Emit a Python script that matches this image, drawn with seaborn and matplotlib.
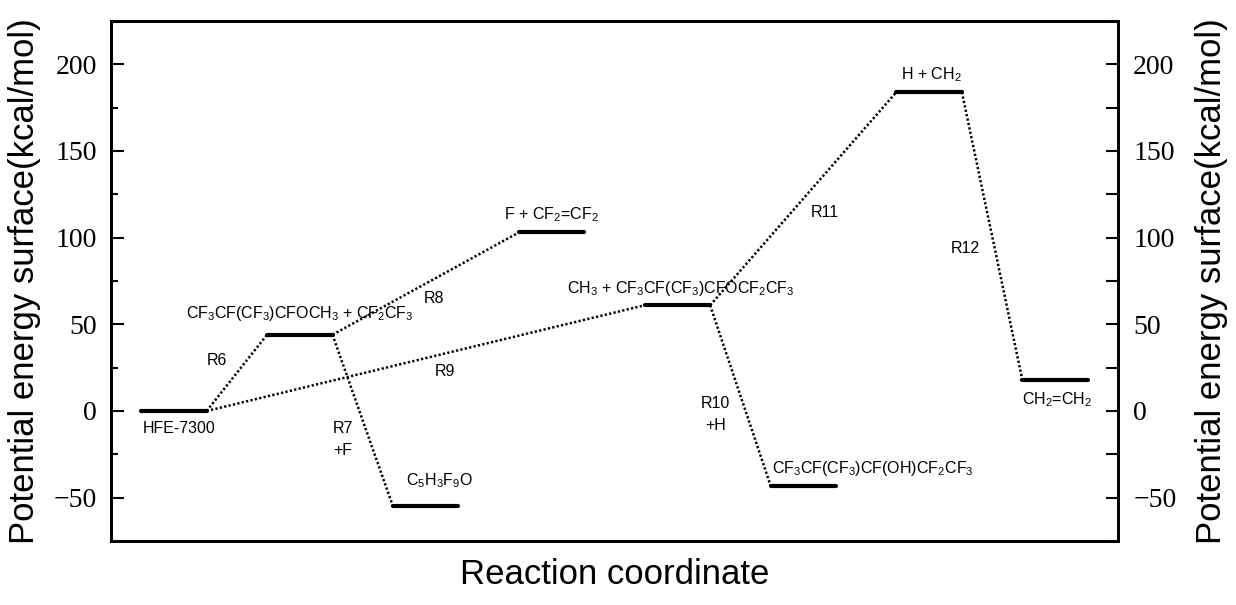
import matplotlib
matplotlib.use("Agg")
import matplotlib.pyplot as plt
import pandas as pd
import seaborn as sns
from matplotlib.ticker import MultipleLocator

# energy levels (kcal/mol), in order along the reaction coordinate
species = ["HFE-7300",
           r"CF$\mathregular{_3}$CF(CF$\mathregular{_3}$)CFOCH$\mathregular{_3}$ + CF$\mathregular{_2}$CF$\mathregular{_3}$",
           r"C$\mathregular{_5}$H$\mathregular{_3}$F$\mathregular{_9}$O",
           r"F + CF$\mathregular{_2}$=CF$\mathregular{_2}$",
           r"CH$\mathregular{_3}$ + CF$\mathregular{_3}$CF(CF$\mathregular{_3}$)CFOCF$\mathregular{_2}$CF$\mathregular{_3}$",
           r"CF$\mathregular{_3}$CF(CF$\mathregular{_3}$)CF(OH)CF$\mathregular{_2}$CF$\mathregular{_3}$",
           r"H + CH$\mathregular{_2}$",
           r"CH$\mathregular{_2}$=CH$\mathregular{_2}$"]
energy = [0, 44, -55, 103, 61, -43, 184, 18]

# reaction paths: (from level, to level, name)
path_from = [0, 1, 1, 0, 4, 4, 6]
path_to = [1, 2, 3, 4, 5, 6, 7]
path_name = ["R6", "R7\n+F", "R8", "R9", "R10\n+H", "R11", "R12"]

yticks = [-50, 0, 50, 100, 150, 200]

sns.set_theme(style="ticks", rc={"text.color": "black", "axes.labelcolor": "black",
                                 "axes.edgecolor": "black", "ytick.color": "black",
                                 "xtick.color": "black"})
plt.rcParams["font.family"] = ["Liberation Sans", "DejaVu Sans"]
plt.rcParams["mathtext.fontset"] = "custom"
plt.rcParams["mathtext.rm"] = "Liberation Sans"

hw = 0.26
lev_rows = []
for i, e in enumerate(energy):
    lev_rows.append({"x": i - hw, "E": e, "id": i})
    lev_rows.append({"x": i + hw, "E": e, "id": i})
levels = pd.DataFrame(lev_rows)

path_rows = []
for k, (a, b) in enumerate(zip(path_from, path_to)):
    path_rows.append({"x": a + hw, "E": energy[a], "id": k})
    path_rows.append({"x": b - hw, "E": energy[b], "id": k})
paths = pd.DataFrame(path_rows)

fig = plt.figure(figsize=(12.36, 6.05), dpi=100)
ax = fig.add_axes([0.0898, 0.1058, 0.8147, 0.8595])

sns.lineplot(data=paths, x="x", y="E", units="id", estimator=None, ax=ax,
             color="black", lw=1.8, dashes=False, legend=False)
for ln in ax.lines:
    ln.set_dashes((0.9, 0.9))
sns.lineplot(data=levels, x="x", y="E", units="id", estimator=None, ax=ax,
             color="black", lw=3, legend=False)

# label placement (data coords)
spec_xy = [(0.04, -10), (1.0, 56), (2.11, -40), (3.0, 113),
           (4.03, 70.6), (5.55, -33), (6.02, 194), (7.02, 6.5)]
for s, (x, y) in zip(species, spec_xy):
    ax.text(x, y, s, ha="center", va="center", fontsize=11.5)

path_xy = [(0.34, 29.3), (1.34, -16.5), (2.07, 65), (2.15, 22.5),
           (4.30, -2), (5.17, 114.5), (6.29, 94)]
for s, (x, y) in zip(path_name, path_xy):
    ax.text(x, y, s, ha="center", va="center", fontsize=11.5, linespacing=1.55)

ax.set_xlim(-0.5, 7.5)
ax.set_ylim(-75, 225)
ax.set_xticks([])
ax.set_yticks(yticks)
ax.yaxis.set_minor_locator(MultipleLocator(25))
ax.tick_params(axis="y", which="major", direction="in", length=9, width=1.5,
               labelsize=20, pad=10, labelfontfamily="Liberation Serif")
ax.tick_params(axis="y", which="minor", direction="in", length=5, width=1.5)
for sp in ax.spines.values():
    sp.set_linewidth(2)
    sp.set_visible(True)

ax2 = ax.twinx()
ax2.set_ylim(-75, 225)
ax2.set_yticks(yticks)
ax2.yaxis.set_minor_locator(MultipleLocator(25))
ax2.tick_params(axis="y", which="major", direction="in", length=9, width=1.5,
                labelsize=20, pad=11, labelfontfamily="Liberation Serif")
ax2.tick_params(axis="y", which="minor", direction="in", length=9, width=1.5)
for sp in ax2.spines.values():
    sp.set_linewidth(2)

ylab = "Potential energy surface(kcal/mol)"
ax.set_ylabel(ylab, fontsize=25, va="center")
ax.yaxis.set_label_coords(-0.0854, 0.5)
ax2.set_ylabel(ylab, fontsize=25, va="center", rotation=90)
ax2.yaxis.set_label_coords(1.0924, 0.5)
ax.set_xlabel("Reaction coordinate", fontsize=25, va="center")
ax.xaxis.set_label_coords(0.5, -0.065)

fig.savefig("out.png", dpi=100)
